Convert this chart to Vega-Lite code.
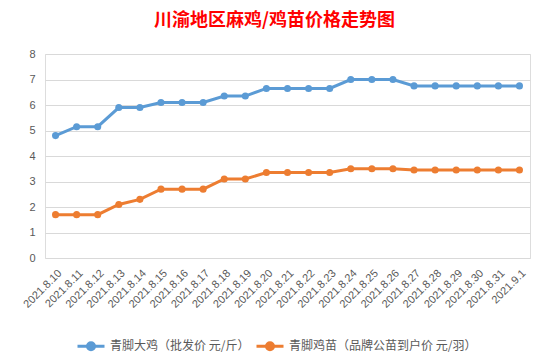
{
  "$schema": "https://vega.github.io/schema/vega-lite/v6.json",
  "autosize": "none",
  "width": 485,
  "height": 204,
  "padding": {"left": 45, "top": 54, "right": 19, "bottom": 97},
  "background": "white",
  "title": {
    "text": "川渝地区麻鸡/鸡苗价格走势图",
    "color": "#FF0000",
    "font": "Noto Sans CJK SC",
    "fontSize": 18,
    "fontWeight": "bold",
    "anchor": "middle",
    "dx": -13,
    "offset": 18
  },
  "data": {
    "values": [
      {"date": "2021.8.10", "series": "青脚大鸡（批发价 元/斤）", "price": 4.8},
      {"date": "2021.8.11", "series": "青脚大鸡（批发价 元/斤）", "price": 5.15},
      {"date": "2021.8.12", "series": "青脚大鸡（批发价 元/斤）", "price": 5.15},
      {"date": "2021.8.13", "series": "青脚大鸡（批发价 元/斤）", "price": 5.9},
      {"date": "2021.8.14", "series": "青脚大鸡（批发价 元/斤）", "price": 5.9},
      {"date": "2021.8.15", "series": "青脚大鸡（批发价 元/斤）", "price": 6.1},
      {"date": "2021.8.16", "series": "青脚大鸡（批发价 元/斤）", "price": 6.1},
      {"date": "2021.8.17", "series": "青脚大鸡（批发价 元/斤）", "price": 6.1},
      {"date": "2021.8.18", "series": "青脚大鸡（批发价 元/斤）", "price": 6.35},
      {"date": "2021.8.19", "series": "青脚大鸡（批发价 元/斤）", "price": 6.35},
      {"date": "2021.8.20", "series": "青脚大鸡（批发价 元/斤）", "price": 6.65},
      {"date": "2021.8.21", "series": "青脚大鸡（批发价 元/斤）", "price": 6.65},
      {"date": "2021.8.22", "series": "青脚大鸡（批发价 元/斤）", "price": 6.65},
      {"date": "2021.8.23", "series": "青脚大鸡（批发价 元/斤）", "price": 6.65},
      {"date": "2021.8.24", "series": "青脚大鸡（批发价 元/斤）", "price": 7.0},
      {"date": "2021.8.25", "series": "青脚大鸡（批发价 元/斤）", "price": 7.0},
      {"date": "2021.8.26", "series": "青脚大鸡（批发价 元/斤）", "price": 7.0},
      {"date": "2021.8.27", "series": "青脚大鸡（批发价 元/斤）", "price": 6.75},
      {"date": "2021.8.28", "series": "青脚大鸡（批发价 元/斤）", "price": 6.75},
      {"date": "2021.8.29", "series": "青脚大鸡（批发价 元/斤）", "price": 6.75},
      {"date": "2021.8.30", "series": "青脚大鸡（批发价 元/斤）", "price": 6.75},
      {"date": "2021.8.31", "series": "青脚大鸡（批发价 元/斤）", "price": 6.75},
      {"date": "2021.9.1", "series": "青脚大鸡（批发价 元/斤）", "price": 6.75},
      {"date": "2021.8.10", "series": "青脚鸡苗（品牌公苗到户价 元/羽）", "price": 1.7},
      {"date": "2021.8.11", "series": "青脚鸡苗（品牌公苗到户价 元/羽）", "price": 1.7},
      {"date": "2021.8.12", "series": "青脚鸡苗（品牌公苗到户价 元/羽）", "price": 1.7},
      {"date": "2021.8.13", "series": "青脚鸡苗（品牌公苗到户价 元/羽）", "price": 2.1},
      {"date": "2021.8.14", "series": "青脚鸡苗（品牌公苗到户价 元/羽）", "price": 2.3},
      {"date": "2021.8.15", "series": "青脚鸡苗（品牌公苗到户价 元/羽）", "price": 2.7},
      {"date": "2021.8.16", "series": "青脚鸡苗（品牌公苗到户价 元/羽）", "price": 2.7},
      {"date": "2021.8.17", "series": "青脚鸡苗（品牌公苗到户价 元/羽）", "price": 2.7},
      {"date": "2021.8.18", "series": "青脚鸡苗（品牌公苗到户价 元/羽）", "price": 3.1},
      {"date": "2021.8.19", "series": "青脚鸡苗（品牌公苗到户价 元/羽）", "price": 3.1},
      {"date": "2021.8.20", "series": "青脚鸡苗（品牌公苗到户价 元/羽）", "price": 3.35},
      {"date": "2021.8.21", "series": "青脚鸡苗（品牌公苗到户价 元/羽）", "price": 3.35},
      {"date": "2021.8.22", "series": "青脚鸡苗（品牌公苗到户价 元/羽）", "price": 3.35},
      {"date": "2021.8.23", "series": "青脚鸡苗（品牌公苗到户价 元/羽）", "price": 3.35},
      {"date": "2021.8.24", "series": "青脚鸡苗（品牌公苗到户价 元/羽）", "price": 3.5},
      {"date": "2021.8.25", "series": "青脚鸡苗（品牌公苗到户价 元/羽）", "price": 3.5},
      {"date": "2021.8.26", "series": "青脚鸡苗（品牌公苗到户价 元/羽）", "price": 3.5},
      {"date": "2021.8.27", "series": "青脚鸡苗（品牌公苗到户价 元/羽）", "price": 3.45},
      {"date": "2021.8.28", "series": "青脚鸡苗（品牌公苗到户价 元/羽）", "price": 3.45},
      {"date": "2021.8.29", "series": "青脚鸡苗（品牌公苗到户价 元/羽）", "price": 3.45},
      {"date": "2021.8.30", "series": "青脚鸡苗（品牌公苗到户价 元/羽）", "price": 3.45},
      {"date": "2021.8.31", "series": "青脚鸡苗（品牌公苗到户价 元/羽）", "price": 3.45},
      {"date": "2021.9.1", "series": "青脚鸡苗（品牌公苗到户价 元/羽）", "price": 3.45}
    ]
  },
  "mark": {"type": "line", "strokeWidth": 3, "point": {"size": 50, "filled": true}},
  "encoding": {
    "x": {
      "field": "date",
      "type": "ordinal",
      "sort": null,
      "axis": {
        "title": null,
        "labelAngle": -45,
        "labelFontSize": 11,
        "labelFont": "Liberation Sans",
        "labelColor": "#595959",
        "domain": false,
        "ticks": false,
        "grid": false,
        "labelPadding": 9
      }
    },
    "y": {
      "field": "price",
      "type": "quantitative",
      "scale": {"domain": [0, 8]},
      "axis": {
        "title": null,
        "values": [0, 1, 2, 3, 4, 5, 6, 7, 8],
        "labelFontSize": 11,
        "labelFont": "Liberation Sans",
        "labelColor": "#595959",
        "domain": false,
        "ticks": false,
        "labelPadding": 10,
        "gridColor": "#D9D9D9",
        "gridWidth": 1
      }
    },
    "color": {
      "field": "series",
      "type": "nominal",
      "sort": null,
      "scale": {"range": ["#5B9BD5", "#ED7D31"]},
      "legend": {
        "title": null,
        "orient": "none",
        "legendX": 31,
        "legendY": 277,
        "direction": "horizontal",
        "labelFont": "Noto Sans CJK SC",
        "labelFontSize": 12,
        "labelColor": "#595959",
        "labelLimit": 400,
        "symbolType": "M-1,0H1M-0.26,0A0.26,0.26,0,1,1,0.26,0A0.26,0.26,0,1,1,-0.26,0Z",
        "symbolSize": 729,
        "symbolStrokeWidth": 3,
        "columnPadding": 0,
        "labelOffset": 4,
        "encode": {
          "symbols": {"update": {"fill": {"scale": "color", "field": "value"}, "fillOpacity": {"value": 1}}}
        }
      }
    }
  }
}
